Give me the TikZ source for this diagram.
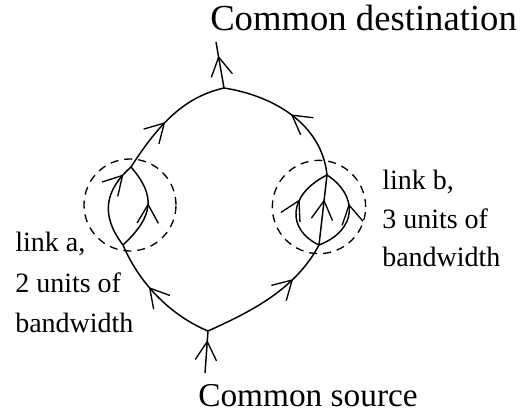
\documentclass[tikz,border=0pt]{standalone}
\usepackage{fontspec}
\setmainfont{Liberation Serif}
\usetikzlibrary{arrows.meta,decorations.markings}

\tikzset{
    barb/.tip={Straight Barb[length=14pt,width=16pt,line width=1pt]},
    flow/.style={line width=1.1pt, postaction={decorate},
        decoration={markings, mark=at position #1 with {\arrow{barb}}}},
    ring/.style={line width=1pt, dash pattern=on 6pt off 4.5pt},
    lbl/.style={anchor=base west, inner sep=0pt, font=\fontsize{21}{25}\selectfont},
}

\begin{document}
\begin{tikzpicture}[x=0.75pt, y=-0.75pt]
    \useasboundingbox (0,0) rectangle (524,416);

    \node[anchor=base west, inner sep=0pt, font=\fontsize{27.5}{30}\selectfont] (dest) at (210,31) {Common destination};
    \node[anchor=base west, inner sep=0pt, font=\fontsize{25}{30}\selectfont] (source) at (198,406) {Common source};

    \coordinate (s) at (208,331);
    \coordinate (sfoot) at (205,373);
    \coordinate (d) at (224,88);
    \coordinate (dhead) at (216,42);
    \coordinate (abot) at (123,245);
    \coordinate (atop) at (131,167);
    \coordinate (bbot) at (319,245);
    \coordinate (btop) at (327,175);

    % link a and link b
    \draw[ring] (130,205) circle[radius=34.5pt];
    \draw[ring] (319,207) circle[radius=35pt];

    \node[lbl] (la1) at (15,252) {link a,};
    \node[lbl] (la2) at (15,293) {2 units of};
    \node[lbl] (la3) at (15,332) {bandwidth};
    \node[lbl] (lb1) at (382,190) {link b,};
    \node[lbl] (lb2) at (382,229) {3 units of};
    \node[lbl] (lb3) at (382,267) {bandwidth};

    \draw[flow=0.78] (sfoot) -- (s);
    \draw[flow=0.6] (s) .. controls (172,316) and (140,285) .. (abot);
    \draw[flow=0.7] (s) .. controls (250,312) and (295,290) .. (bbot);

    \draw[flow=0.88] (abot) .. controls (100,215) and (105,190) .. (atop);
    \draw[flow=0.55] (abot) .. controls (155,215) and (155,195) .. (atop);

    \draw[flow=0.6] (bbot) .. controls (287,230) and (287,195) .. (btop);
    \draw[flow=0.65] (bbot) -- (btop);
    \draw[flow=0.6] (bbot) .. controls (358,230) and (358,195) .. (btop);

    \draw[flow=0.45] (atop) .. controls (160,122) and (185,97) .. (d);
    \draw[flow=0.5] (btop) .. controls (322,125) and (275,96) .. (d);
    \draw[flow=0.7] (d) -- (dhead);
\end{tikzpicture}
\end{document}
